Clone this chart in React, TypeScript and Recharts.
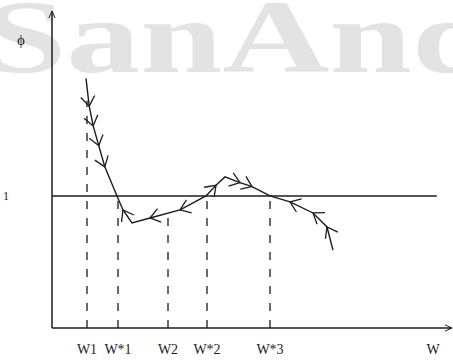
import { ComposedChart, Line, XAxis, YAxis, ReferenceLine } from 'recharts';

// phase curve phi(W)
const curveW = [0.85, 0.93, 1.03, 1.17, 1.32, 1.625, 1.775, 2.0, 2.45, 3.2, 3.85, 4.1, 4.325, 4.7, 5.0, 5.45, 5.95, 6.525, 6.875, 7.025];
const curvePhi = [1.89, 1.68, 1.53, 1.38, 1.22, 1.0, 0.894, 0.795, 0.833, 0.894, 1.0, 1.08, 1.144, 1.1, 1.07, 1.0, 0.955, 0.871, 0.765, 0.59];
// flow direction arrows: 1 = towards larger W, -1 = towards smaller W, 0 = none
const curveArrow = [0, 1, 1, 1, 1, 0, -1, 0, -1, -1, 0, 1, 0, 1, 1, 0, -1, -1, -1, 0];

const tickPositions = [0.875, 1.65, 2.9, 3.875, 5.45, 9.53];
const tickLabels = ['W1', 'W*1', 'W2', 'W*2', 'W*3', 'W'];

// dashed drop lines: W value and height where they stop
const dropW = [0.875, 1.65, 2.9, 3.875, 5.45];
const dropTop = [1.72, 1.0, 0.89, 1.0, 1.0];

const phiTicks = [1, 2.17];
const phiLabels = ['1', 'ϕ'];

const data = curveW.map((w, i) => ({ w, phi: curvePhi[i], arrow: curveArrow[i] }));

const ink = '#1c1c1c';
const serif = '"Liberation Serif", "DejaVu Serif", serif';

function ArrowDot(props: any) {
  const { cx, cy, index, points, payload } = props;
  if (!payload || !payload.arrow || !points) return <g key={index} />;
  const prev = points[index - 1];
  const next = points[index + 1];
  let dx = next.x - prev.x;
  let dy = next.y - prev.y;
  const len = Math.hypot(dx, dy) || 1;
  dx = (dx / len) * payload.arrow;
  dy = (dy / len) * payload.arrow;
  const L = 12;
  const a = (36 * Math.PI) / 180;
  const arm = (s: number) => {
    const c = Math.cos(s * a), sn = Math.sin(s * a);
    const rx = dx * c - dy * sn;
    const ry = dx * sn + dy * c;
    return `${cx - rx * L},${cy - ry * L}`;
  };
  return (
    <polyline
      key={index}
      points={`${arm(1)} ${cx},${cy} ${arm(-1)}`}
      fill="none"
      stroke={ink}
      strokeWidth={1.3}
    />
  );
}

function PhiTick(props: any) {
  const { x, y, payload, index } = props;
  const i = phiTicks.indexOf(payload.value);
  const isPhi = i === 1;
  return (
    <text
      key={index}
      x={isPhi ? x - 23 : x - 38}
      y={y}
      dy={4}
      textAnchor="middle"
      fontFamily={serif}
      fontSize={isPhi ? 15 : 12}
      fill={ink}
    >
      {phiLabels[i]}
    </text>
  );
}

export default function App() {
  return (
    <div style={{ position: 'absolute', left: 0, top: 0, width: 453, height: 361, background: '#fff', overflow: 'hidden' }}>
      <svg width={453} height={361} style={{ position: 'absolute', left: 0, top: 0 }}>
        <text
          x={-16}
          y={72}
          fontFamily={serif}
          fontWeight="bold"
          fontSize={104}
          textLength={510}
          lengthAdjust="spacingAndGlyphs"
          fill="#e3e3e3"
        >
          SanAnd
        </text>
      </svg>
      <div style={{ position: 'absolute', left: 0, top: 0 }}>
        <ComposedChart width={453} height={361} data={data} margin={{ top: 11, right: 1, bottom: 0, left: 0 }}>
          <defs>
            <marker id="axArrow" viewBox="0 0 10 10" refX="9" refY="5" markerWidth="8" markerHeight="8" orient="auto-start-reverse" markerUnits="userSpaceOnUse">
              <path d="M0,1 L9,5 L0,9" fill="none" stroke={ink} strokeWidth={1.2} />
            </marker>
          </defs>
          <XAxis
            type="number"
            dataKey="w"
            domain={[0, 10]}
            ticks={tickPositions}
            tickFormatter={(v: number) => tickLabels[tickPositions.indexOf(v)]}
            tickLine={false}
            tickMargin={10}
            height={33}
            allowDataOverflow
            axisLine={{ stroke: ink, strokeWidth: 1.5, markerEnd: 'url(#axArrow)' }}
            tick={{ fill: ink, fontSize: 14, fontFamily: serif }}
          />
          <YAxis
            type="number"
            domain={[0, 2.4]}
            ticks={phiTicks}
            width={52}
            tickLine={false}
            allowDataOverflow
            axisLine={{ stroke: ink, strokeWidth: 1.5, markerStart: 'url(#axArrow)' }}
            tick={<PhiTick />}
          />
          <ReferenceLine segment={[{ x: 0, y: 1 }, { x: 9.62, y: 1 }]} stroke={ink} strokeWidth={1.5} />
          {dropW.map((w, i) => (
            <ReferenceLine
              key={i}
              segment={[{ x: w, y: 0 }, { x: w, y: dropTop[i] }]}
              stroke={ink}
              strokeWidth={1.3}
              strokeDasharray="8 9"
            />
          ))}
          <Line
            type="linear"
            dataKey="phi"
            stroke={ink}
            strokeWidth={1.4}
            dot={<ArrowDot />}
            activeDot={false}
            isAnimationActive={false}
          />
        </ComposedChart>
      </div>
    </div>
  );
}
